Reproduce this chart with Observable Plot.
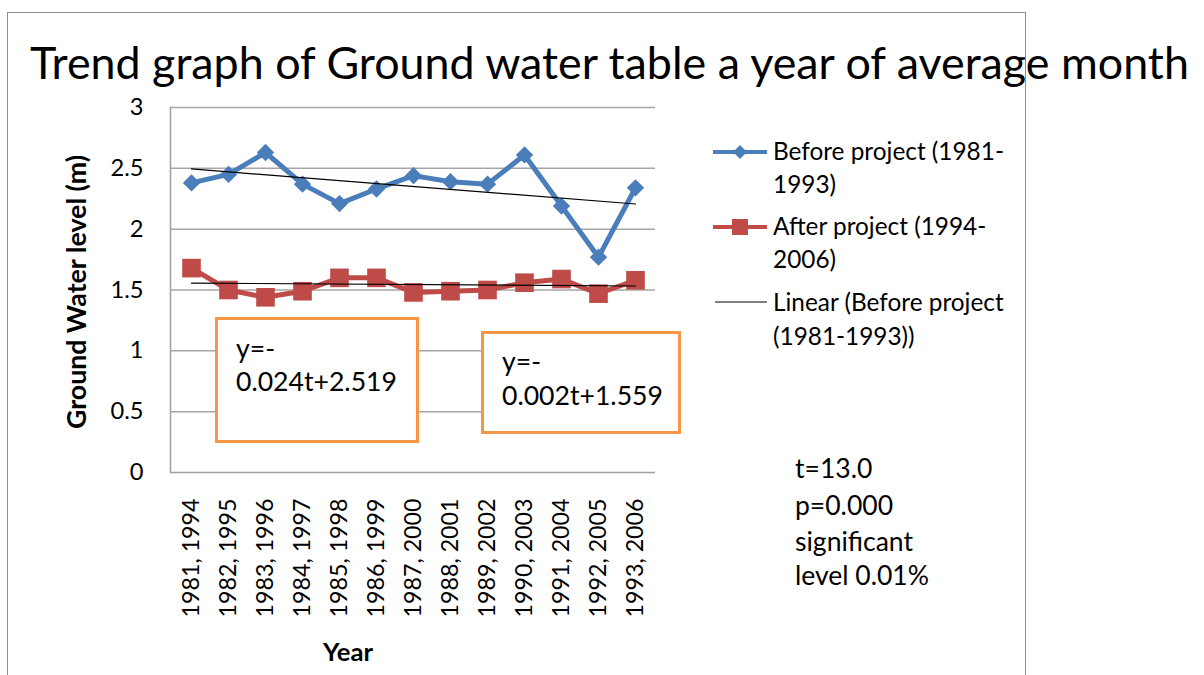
<!DOCTYPE html>
<html><head><meta charset="utf-8">
<script src="https://cdn.jsdelivr.net/npm/d3@7"></script>
<script src="https://cdn.jsdelivr.net/npm/@observablehq/plot@0.6"></script>
<style>
body{margin:0;background:#fff;}
#wrap{position:relative;width:1204px;height:675px;overflow:hidden;background:#fff;}
#frame{position:absolute;left:7px;top:12px;width:1019px;height:700px;border:1.5px solid #8c8c8c;box-sizing:border-box;}
.box{position:absolute;border:3px solid #F79646;background:#fff;box-sizing:border-box;}
svg.overlay{position:absolute;left:0;top:0;}
</style></head><body><div id="wrap"><div id="frame"></div></div>
<script>
// ---- data ----
const years = ["1981, 1994","1982, 1995","1983, 1996","1984, 1997","1985, 1998","1986, 1999","1987, 2000","1988, 2001","1989, 2002","1990, 2003","1991, 2004","1992, 2005","1993, 2006"];
const beforeProject = [2.38, 2.45, 2.63, 2.37, 2.21, 2.33, 2.44, 2.39, 2.37, 2.61, 2.19, 1.77, 2.34];
const afterProject  = [1.68, 1.50, 1.44, 1.49, 1.60, 1.60, 1.48, 1.49, 1.50, 1.56, 1.59, 1.47, 1.58];
const trendBeforeEnds = [2.495, 2.207];
const trendAfterEnds  = [1.557, 1.533];
const yTicks = [0, 0.5, 1, 1.5, 2, 2.5, 3];
const titleText = "Trend graph of Ground water table a year of average month";
const yLabel = "Ground Water level (m)";
const xLabel = "Year";
const legendLines = [["Before project (1981-","1993)"],["After project (1994-","2006)"],["Linear (Before project","(1981-1993))"]];
const eq1 = ["y=-","0.024t+2.519"];
const eq2 = ["y=-","0.002t+1.559"];
const stats = ["t=13.0","p=0.000","significant","level 0.01%"];

const FONT = "Lato, 'Open Sans', sans-serif";
const BLUE = "#4A7EBB", RED = "#BE4B48";

// fit font-size to a target width
const cv = document.createElement("canvas").getContext("2d");
function fit(text, w, weight="normal") {
  cv.font = `${weight} 100px ${FONT}`;
  return 100 * w / cv.measureText(text).width;
}
const xTickSize = fit("1981, 1994", 119);
const yTickSize = fit("2.5", 33);

const beforeData = years.map((x,i)=>({x, y: beforeProject[i]}));
const afterData = years.map((x,i)=>({x, y: afterProject[i]}));
const trendB = [{x: years[0], y: trendBeforeEnds[0]}, {x: years[years.length-1], y: trendBeforeEnds[1]}];
const trendA = [{x: years[0], y: trendAfterEnds[0]}, {x: years[years.length-1], y: trendAfterEnds[1]}];

const chart = Plot.plot({
  width: 1204, height: 675,
  marginLeft: 170, marginRight: 549, marginTop: 107, marginBottom: 203,
  style: {fontFamily: FONT, fontSize: "20px", color: "#000", background: "transparent", overflow: "visible"},
  x: {type: "point", domain: years, padding: 0.5, label: null},
  y: {domain: [0, 3], label: null},
  marks: [
    Plot.gridY(yTicks.filter(d => d > 0), {stroke: "#a6a6a6", strokeOpacity: 1, strokeWidth: 1.5}),
    Plot.ruleY([0], {stroke: "#a0a0a0", strokeWidth: 1.5}),
    Plot.frame({anchor: "left", stroke: "#a0a0a0", strokeWidth: 1.5}),
    Plot.axisY({ticks: yTicks, tickSize: 0, tickPadding: 27, tickFormat: d => String(d), fontSize: yTickSize, label: null}),
    Plot.axisX({tickSize: 0, tickRotate: -90, tickPadding: 26, fontSize: xTickSize, label: null}),
    Plot.line(beforeData, {x: "x", y: "y", stroke: BLUE, strokeWidth: 5}),
    Plot.dot(beforeData, {x: "x", y: "y", symbol: "diamond2", r: 7.8, fill: BLUE, stroke: null}),
    Plot.line(afterData, {x: "x", y: "y", stroke: RED, strokeWidth: 5}),
    Plot.dot(afterData, {x: "x", y: "y", symbol: "square", r: 10.5, fill: RED, stroke: null}),
    Plot.line(trendB, {x: "x", y: "y", stroke: "#000", strokeWidth: 1.2}),
    Plot.line(trendA, {x: "x", y: "y", stroke: "#000", strokeWidth: 1.2})
  ]
});
chart.style.position = "absolute";
chart.style.left = "0px";
chart.style.top = "0px";
const wrap = document.getElementById("wrap");
wrap.appendChild(chart);

// equation boxes
function box(l, t, r, b) {
  const d = document.createElement("div");
  d.className = "box";
  Object.assign(d.style, {left: l+"px", top: t+"px", width: (r-l)+"px", height: (b-t)+"px"});
  wrap.appendChild(d);
}
box(215, 317, 419, 443);
box(481, 331, 681, 434);

// overlay text
const ov = d3.select(wrap).append("svg").attr("class","overlay").attr("width",1204).attr("height",675)
  .style("font-family", FONT);
function txt(x, y, s, size, opts={}) {
  const t = ov.append("text").attr("x", x).attr("y", y).text(s).attr("font-size", size).attr("fill", "#000");
  if (opts.weight) t.attr("font-weight", opts.weight);
  if (opts.anchor) t.attr("text-anchor", opts.anchor);
  if (opts.rotate) t.attr("transform", `rotate(${opts.rotate},${x},${y})`);
  return t;
}
txt(30, 79, titleText, fit(titleText, 1165));
txt(86, 292, yLabel, fit(yLabel, 275, "bold"), {weight: "bold", anchor: "middle", rotate: -90});
txt(348, 661, xLabel, fit(xLabel, 50, "bold"), {weight: "bold", anchor: "middle"});

const legSize = fit(legendLines[0][0], 231);
const legY = [[160,193],[235,268],[311,345]];
legendLines.forEach((lines, i) => {
  lines.forEach((s, j) => txt(773, legY[i][j], s, legSize));
});
// legend samples
const lg = ov.append("g");
lg.append("line").attr("x1",713).attr("x2",767).attr("y1",152).attr("y2",152).attr("stroke",BLUE).attr("stroke-width",4);
lg.append("path").attr("d","M740,145L747,152L740,159L733,152Z").attr("fill",BLUE);
lg.append("line").attr("x1",713).attr("x2",767).attr("y1",227).attr("y2",227).attr("stroke",RED).attr("stroke-width",4);
lg.append("rect").attr("x",732).attr("y",219).attr("width",16).attr("height",16).attr("fill",RED);
lg.append("line").attr("x1",715).attr("x2",767).attr("y1",302).attr("y2",302).attr("stroke","#000").attr("stroke-width",1.2);

const eqSize = fit(eq1[1], 161);
txt(236, 358, eq1[0], eqSize);
txt(236, 391, eq1[1], eqSize);
txt(502, 371, eq2[0], eqSize);
txt(502, 405, eq2[1], eqSize);

const stSize = fit(stats[2], 118);
const stY = [478, 515, 551, 585];
stats.forEach((s, i) => txt(795, stY[i], s, stSize));
</script>
</body></html>
